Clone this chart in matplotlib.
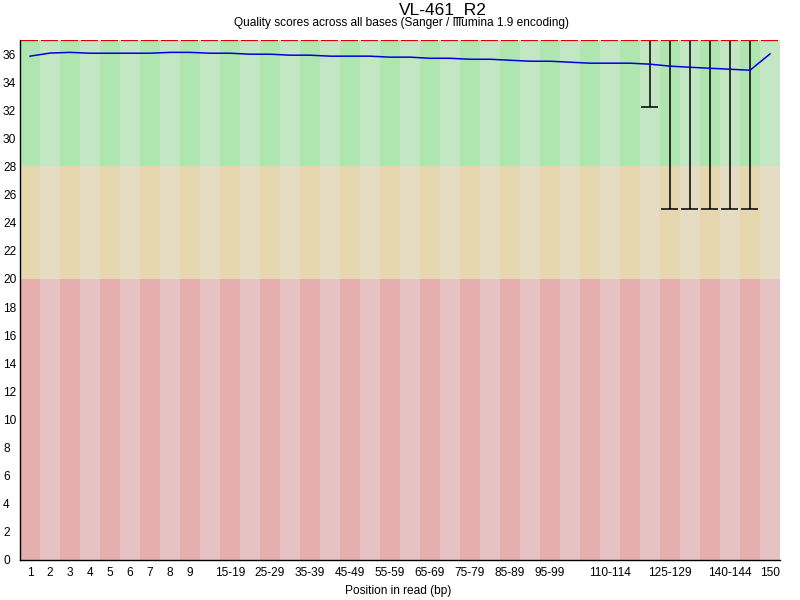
import matplotlib
matplotlib.use("Agg")
import matplotlib.pyplot as plt
import matplotlib.transforms as mtransforms

plt.rcParams['font.family'] = ['Liberation Sans', 'DejaVu Sans']

# ---- data ----
positions = [str(i) for i in range(1, 10)] + \
            [f"{s}-{s+4}" for s in range(10, 150, 5)] + ["150"]
shown_labels = ["1", "2", "3", "4", "5", "6", "7", "8", "9",
                "15-19", "25-29", "35-39", "45-49", "55-59", "65-69",
                "75-79", "85-89", "95-99", "110-114", "125-129",
                "140-144", "150"]
mean_q = [35.85, 36.07, 36.12, 36.06, 36.06, 36.06, 36.06, 36.12, 36.12,
          36.06, 36.06, 35.99, 35.99, 35.92, 35.92, 35.85, 35.85, 35.85,
          35.78, 35.78, 35.70, 35.70, 35.63, 35.63, 35.56, 35.49, 35.49,
          35.42, 35.35, 35.35, 35.35, 35.28, 35.14, 35.06, 34.99, 34.92,
          34.85, 36.01]
median_q = [37] * 38
lower_q = [37] * 38
upper_q = [37] * 38
p10 = [37] * 31 + [32.2, 25, 25, 25, 25, 25, 37]
p90 = [37] * 38
y_ticks = list(range(0, 37, 2))
title = "VL-461_R2"
subtitle = "Quality scores across all bases (Sanger / Illumina 1.9 encoding)"
xlabel = "Position in read (bp)"

# ---- figure ----
W, H = 800, 600
fig = plt.figure(figsize=(8, 6), dpi=100)
ax = fig.add_axes([20 / W, 40 / H, 760 / W, 520 / H])
n = len(positions)
x = list(range(n))
ymax = 37

zones = [(0, 20, ("#E6AFAF", "#E6C3C3")),
         (20, 28, ("#E6D7AF", "#E6DCC3")),
         (28, ymax, ("#AFE6AF", "#C3E6C3"))]
for lo, hi, (dark, light) in zones:
    cols = [dark if i % 2 == 0 else light for i in x]
    ax.bar(x, hi - lo, bottom=lo, width=1.0, color=cols, linewidth=0, zorder=0)

# boxes (zero height here) and whiskers
for i in x:
    if p90[i] != p10[i]:
        ax.vlines(i, p10[i], p90[i], color="black", lw=1.1, zorder=2)
        ax.hlines([p10[i], p90[i]], i - 0.45, i + 0.42, color="black",
                  lw=1.1, zorder=2)
    if upper_q[i] != lower_q[i]:
        ax.bar(i, upper_q[i] - lower_q[i], bottom=lower_q[i], width=0.85,
               color="#EEEE00", edgecolor="black", lw=0.8, zorder=3)

# median
ax.hlines(median_q, [i - 0.45 for i in x], [i + 0.42 for i in x],
          color="#DD0000", lw=1.6, zorder=4)
# mean
ax.plot(x, mean_q, color="#0000DD", lw=1.1, zorder=5)

ax.set_xlim(-0.5, n - 0.5)
ax.set_ylim(0, ymax)
for s in ("top", "right"):
    ax.spines[s].set_visible(False)
for s in ("left", "bottom"):
    ax.spines[s].set_color("black")
    ax.spines[s].set_linewidth(1.0)

tick_idx = [positions.index(l) for l in shown_labels]
ax.set_xticks(tick_idx)
ax.set_xticklabels(shown_labels, fontsize=8.6)
ax.tick_params(axis="x", length=0, pad=5.0)
ax.set_yticks([])
ax.tick_params(axis="y", length=0)

ytrans = mtransforms.blended_transform_factory(fig.transFigure, ax.transData)
off = mtransforms.ScaledTranslation(0, -1.5 / 100, fig.dpi_scale_trans)
for v in y_ticks:
    ax.text(3 / W, v, str(v), transform=ytrans + off, ha="left", va="center",
            fontsize=8.6, clip_on=False)

fig.text(443 / W, 1 - 10 / H, title, ha="center", va="center", fontsize=12.5)
fig.text(401 / W, 1 - 23 / H, subtitle, ha="center", va="center", fontsize=8.6)
fig.text(398 / W, 1 - 591 / H, xlabel, ha="center", va="center", fontsize=8.6)

fig.savefig("out.png", dpi=100)
